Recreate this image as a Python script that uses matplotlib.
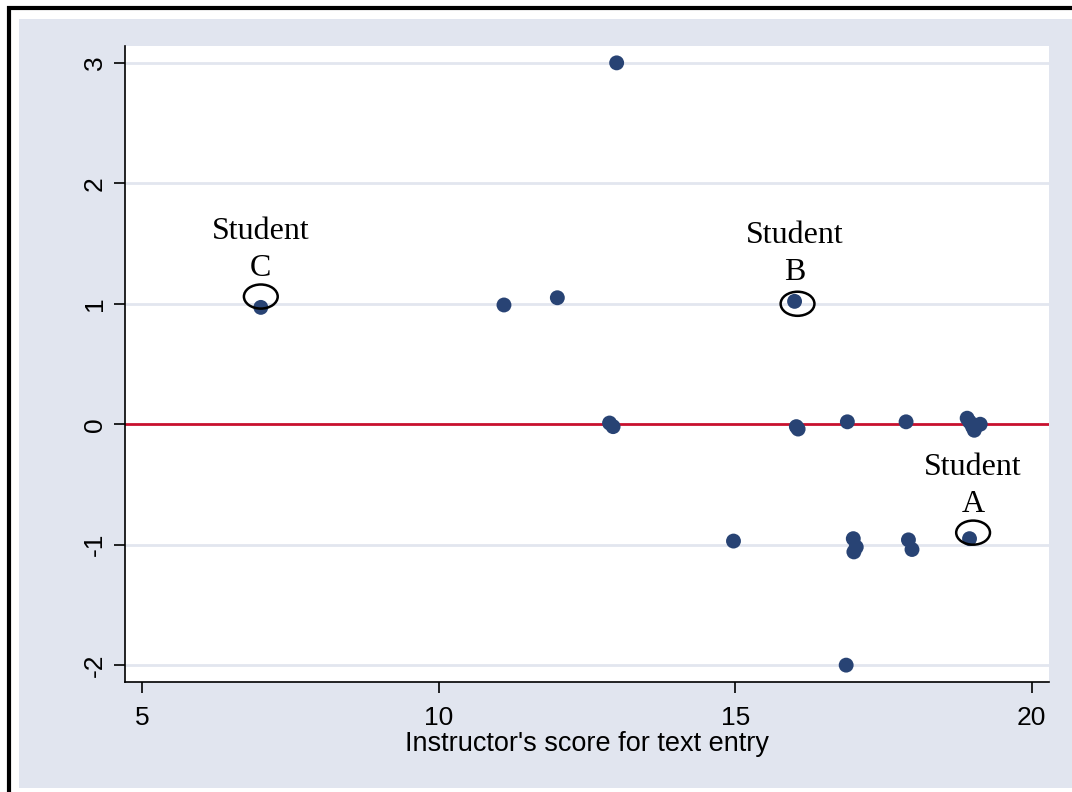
import matplotlib
matplotlib.use("Agg")
import matplotlib.pyplot as plt
from matplotlib.patches import Ellipse, Rectangle
from matplotlib.lines import Line2D

plt.rcParams["axes.unicode_minus"] = False

# instructor score vs difference
score = [13.0, 7.0, 11.1, 12.0, 16.0,
         12.88, 12.94, 16.03, 16.06, 16.89, 17.88,
         18.91, 18.95, 19.13, 19.03, 19.0,
         14.97, 16.99, 17.0, 17.04, 17.92, 17.98, 18.95,
         16.87]
diff = [3.0, 0.97, 0.99, 1.05, 1.02,
        0.01, -0.02, -0.02, -0.04, 0.02, 0.02,
        0.05, 0.02, 0.0, -0.05, -0.02,
        -0.97, -0.95, -1.06, -1.02, -0.96, -1.04, -0.95,
        -2.0]

students = ["C", "B", "A"]
label_x = [7.0, 16.01, 19.01]
label_y = [1.45, 1.41, -0.51]
circle_x = [7.0, 16.05, 19.01]
circle_y = [1.06, 1.0, -0.9]

xticks = [5, 10, 15, 20]
yticks = [-2, -1, 0, 1, 2, 3]

bg = "#E1E5EF"
navy = "#284374"

fig = plt.figure(figsize=(10.72, 7.92), dpi=100)
fig.patch.set_facecolor("white")
fig.add_artist(Rectangle((19/1072, 4/792), 1, 769/792, transform=fig.transFigure,
                         facecolor=bg, edgecolor="none", zorder=-2))
fig.add_artist(Line2D([9/1072, 9/1072], [0, 786/792], transform=fig.transFigure,
                      color="black", lw=3, solid_capstyle="butt", zorder=-1))
fig.add_artist(Line2D([7/1072, 1], [784/792, 784/792], transform=fig.transFigure,
                      color="black", lw=3, solid_capstyle="butt", zorder=-1))

ax = fig.add_axes([125/1072, 110/792, 924/1072, 636/792])
ax.set_facecolor("white")
ax.set_xlim(4.71, 20.29)
ax.set_ylim(-2.14, 3.14)

for y in yticks:
    if y != 0:
        ax.axhline(y, color="#E2E6EF", lw=2, zorder=1)
ax.axhline(0, color="#C8102E", lw=2, zorder=2)

ax.scatter(score, diff, s=115, color=navy, edgecolors="none", zorder=3)

for lab, lx, ly, cx, cy in zip(students, label_x, label_y, circle_x, circle_y):
    ax.add_patch(Ellipse((cx, cy), 0.57, 0.2, facecolor="none",
                         edgecolor="black", lw=1.8, zorder=4))
    ax.text(lx, ly, "Student\n" + lab, ha="center", va="center",
            fontsize=23, family="Liberation Serif", linespacing=1.36, zorder=4)

for s in ["top", "right"]:
    ax.spines[s].set_visible(False)
for s in ["left", "bottom"]:
    ax.spines[s].set_linewidth(1.2)

ax.set_xticks(xticks)
ax.set_yticks(yticks)
ax.tick_params(axis="both", length=8, width=1.2, labelsize=19, colors="black")
ax.tick_params(axis="x", pad=9)
ax.tick_params(axis="y", pad=5)
for t in ax.get_xticklabels() + ax.get_yticklabels():
    t.set_family("Liberation Sans")
for t in ax.get_yticklabels():
    t.set_rotation(90)
    t.set_va("center")

ax.set_xlabel("Instructor's score for text entry", fontsize=19.5,
              family="Liberation Sans", labelpad=1)

fig.savefig("out.png", dpi=100)
